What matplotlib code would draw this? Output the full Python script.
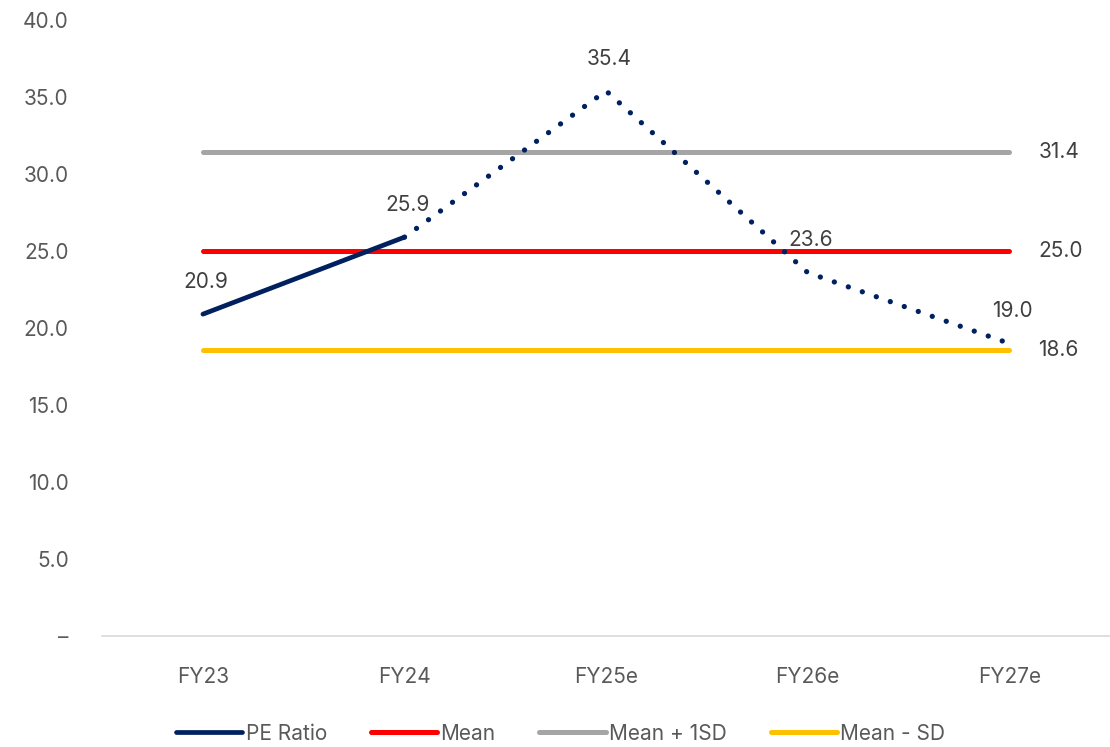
import matplotlib
matplotlib.use("Agg")
import matplotlib.pyplot as plt

plt.rcParams['font.family'] = ['Inter', 'DejaVu Sans']

years = ["FY23", "FY24", "FY25e", "FY26e", "FY27e"]
pe_ratio = [20.9, 25.9, 35.4, 23.6, 19.0]
mean_pe = 25.0
plus_sd = 31.4
minus_sd = 18.6
actual_count = 2  # FY23-FY24 reported, the rest are estimates

navy = "#002060"
red = "#FF0000"
grey = "#A5A5A5"
gold = "#FFC000"
text_col = "#595959"
fs = 15

fig = plt.figure(figsize=(11.10, 7.47), dpi=100)
ax = fig.add_axes([0.092, 0.1486, 0.908, 0.8246])

x = list(range(len(years)))

# reference bands first so the PE line sits on top
ax.plot(x, [mean_pe] * len(x), color=red, lw=3.6, solid_capstyle="round", label="Mean")
ax.plot(x, [plus_sd] * len(x), color=grey, lw=3.6, solid_capstyle="round", label="Mean + 1SD")
ax.plot(x, [minus_sd] * len(x), color=gold, lw=3.6, solid_capstyle="round", label="Mean - SD")

ax.plot(x[:actual_count], pe_ratio[:actual_count], color=navy, lw=3.4,
        solid_capstyle="round", label="PE Ratio", zorder=5)
ax.plot(x[actual_count - 1:], pe_ratio[actual_count - 1:], color=navy, lw=3.8,
        linestyle=(0, (0.01, 2.8)), dash_capstyle="round", zorder=5)

for xi, v in zip(x, pe_ratio):
    ax.annotate(f"{v:.1f}", (xi, v), xytext=(2, 16), textcoords="offset points",
                ha="center", va="bottom", fontsize=fs, color="#404040")

for v in [plus_sd, mean_pe, minus_sd]:
    ax.annotate(f"{v:.1f}", (x[-1], v), xytext=(21, 0), textcoords="offset points",
                ha="left", va="center", fontsize=fs, color="#404040")

ax.set_xlim(-0.5, 4.5)
ax.set_ylim(0, 40)
ax.set_yticks([0, 5, 10, 15, 20, 25, 30, 35, 40])
ax.set_yticklabels(["–" if t == 0 else f"{t:.1f}" for t in ax.get_yticks()])
ax.set_xticks(x)
ax.set_xticklabels(years)
ax.tick_params(axis="both", length=0, labelsize=fs, labelcolor=text_col)
ax.tick_params(axis="x", pad=22)
ax.tick_params(axis="y", pad=24)

for side in ["top", "right", "left"]:
    ax.spines[side].set_visible(False)
ax.spines["bottom"].set_color("#D9D9D9")
ax.spines["bottom"].set_linewidth(1.2)

handles, labels = ax.get_legend_handles_labels()
order = [3, 0, 1, 2]
leg = fig.legend([handles[i] for i in order], [labels[i] for i in order],
                 loc="center", bbox_to_anchor=(0.505, 0.018), ncol=4, frameon=False,
                 fontsize=fs, handlelength=3.2, handletextpad=0.15, columnspacing=2.1)
for t in leg.get_texts():
    t.set_color(text_col)

fig.savefig("out.png", dpi=100)
